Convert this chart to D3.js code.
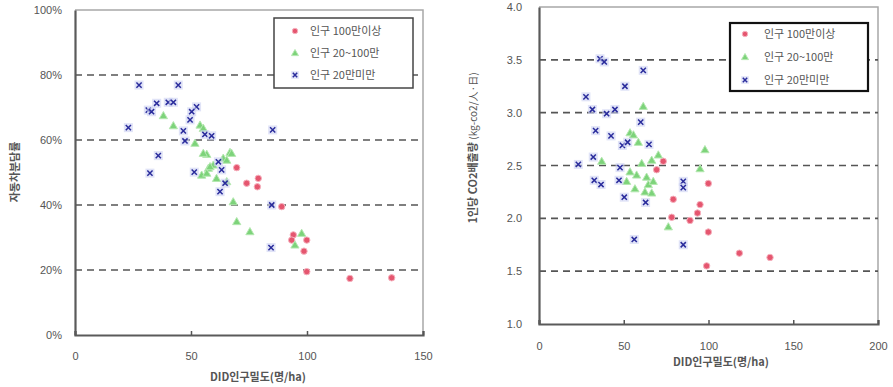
<!DOCTYPE html>
<html><head><meta charset="utf-8">
<script src="https://cdn.jsdelivr.net/npm/d3@7"></script>
<style>
body{margin:0;background:#fff;}
svg{display:block;font-family:"Noto Sans CJK KR","Noto Sans",sans-serif;}
</style></head>
<body><svg id="c" width="893" height="387"></svg>
<script>
// ---- data ----
const seriesNames = ["인구 100만이상", "인구 20~100만", "인구 20만미만"];
// Left chart: DID density (명/ha) vs car modal share (%)
const shareLarge = [[69.7,51.5],[74,46.7],[79,48.2],[78.6,45.6],[89.1,39.5],[94.1,30.8],[93.4,29.2],[99.9,29.2],[98.7,25.8],[99.9,19.5],[118.5,17.4],[136.5,17.6]];
const shareMid = [[38.1,67.5],[42.4,64.4],[53.9,64.6],[55.3,63.6],[51.7,59],[56.8,55.6],[66.8,56.2],[54.6,49.2],[57.5,51.3],[61,48.2],[59.6,52.3],[63.9,54.4],[68.2,41],[69.7,34.9],[55.3,55.9],[58.2,51.8],[65.4,47.2],[56.8,49.8],[67.5,55.9],[65.4,53.8],[75.4,31.8],[97.7,31.3],[94.8,27.7]];
const shareSmall = [[27.6,76.9],[44.5,76.9],[35.2,71.3],[40.2,71.6],[42.4,71.6],[31.6,69.2],[33,68.7],[52.4,70.2],[50.3,68.7],[49.6,66.2],[23,63.8],[46.7,62.8],[47.4,59.7],[56,61.7],[58.9,61.3],[35.9,55.2],[32.3,49.8],[51.4,50.1],[61.8,53.3],[64.7,46.7],[62.5,44.1],[85.2,63.1],[63.2,50.8],[84.8,40],[84.5,26.9]];
// Right chart: DID density vs CO2 per capita (kg-co2/人·日)
const co2Large = [[73.3,2.54],[69.4,2.46],[79.2,2.18],[78.3,2.01],[89.1,1.98],[99.9,2.33],[95,2.13],[93.5,2.05],[99.9,1.87],[118.2,1.67],[136.3,1.63],[98.9,1.55]];
const co2Mid = [[61.5,3.06],[53.7,2.81],[55.7,2.79],[37,2.54],[60.6,2.52],[66.5,2.55],[70.4,2.60],[53.7,2.44],[57.6,2.41],[63.5,2.39],[64.5,2.32],[67.4,2.35],[51.7,2.35],[62.5,2.25],[66.5,2.24],[56.6,2.28],[76.3,1.92],[97.9,2.65],[95,2.47],[58.6,2.72]];
const co2Small = [[36,3.51],[38.5,3.48],[61.5,3.40],[50.7,3.25],[27.7,3.15],[31.5,3.03],[39.9,2.99],[44.8,3.03],[60,2.91],[33.4,2.83],[42.5,2.78],[49.2,2.69],[52.3,2.72],[64.9,2.70],[32,2.58],[23.2,2.51],[47.8,2.48],[32.6,2.36],[36.6,2.32],[47.2,2.36],[85.1,2.35],[85.1,2.29],[50.3,2.20],[62.9,2.15],[56.2,1.80],[85.1,1.75]];
const leftXTicks = [0,50,100,150];
const leftYTicks = [0,20,40,60,80,100];
const leftGrid = [20,40,60,80];
const rightXTicks = [0,50,100,150,200];
const rightYTicks = [1.0,1.5,2.0,2.5,3.0,3.5,4.0];
const rightGrid = [1.5,2.0,2.5,3.0,3.5];

const svg = d3.select("#c");
const colors = ["#e5566f","#7dd37a","#2a2c9c"];

function marker(g, type, cx, cy, k){
  k = k || 1;
  if(type===0){
    g.append("circle").attr("cx",cx).attr("cy",cy).attr("r",3.2*k)
      .attr("fill",colors[0]).attr("stroke","#f6b0bd").attr("stroke-width",1);
  } else if(type===1){
    const s=4.1*k;
    g.append("path").attr("d",`M${cx},${cy-s}L${cx+s},${cy+s*0.75}L${cx-s},${cy+s*0.75}Z`)
      .attr("fill",colors[1]).attr("stroke","#b4e8b0").attr("stroke-width",1);
  } else {
    const s=2.6*k;
    g.append("rect").attr("x",cx-4.5*k).attr("y",cy-4.5*k).attr("width",9*k).attr("height",9*k)
      .attr("fill","#ccd0f2").attr("opacity",0.6);
    g.append("path").attr("d",`M${cx-s},${cy-s}L${cx+s},${cy+s}M${cx-s},${cy+s}L${cx+s},${cy-s}`)
      .attr("stroke",colors[2]).attr("stroke-width",1.5).attr("fill","none");
  }
}

function chart(cfg){
  const g = svg.append("g");
  const x = d3.scaleLinear().domain(cfg.xDomain).range([cfg.left,cfg.right]);
  const y = d3.scaleLinear().domain(cfg.yDomain).range([cfg.bottom,cfg.top]);
  g.append("path").attr("d",`M${cfg.left},${cfg.top}H${cfg.right}V${cfg.bottom}`)
    .attr("fill","none").attr("stroke","#a8a8a8").attr("stroke-width",1.5);
  g.selectAll(".grid").data(cfg.grid).join("line")
    .attr("x1",cfg.left).attr("x2",cfg.right)
    .attr("y1",d=>y(d)).attr("y2",d=>y(d))
    .attr("stroke","#555").attr("stroke-width",1.6).attr("stroke-dasharray","7,5");
  const xa = g.append("g").attr("transform",`translate(0,${cfg.bottom})`)
    .call(d3.axisBottom(x).tickValues(cfg.xTicks).tickSize(-4).tickPadding(cfg.xPad).tickFormat(d3.format("d")));
  const ya = g.append("g").attr("transform",`translate(${cfg.left},0)`)
    .call(d3.axisLeft(y).tickValues(cfg.yTicks).tickSize(0).tickPadding(cfg.yPad).tickFormat(cfg.yFmt));
  [xa,ya].forEach(a=>{
    a.select(".domain").attr("stroke","#5a5a5a").attr("stroke-width",2.2);
    a.selectAll(".tick line").attr("stroke","#555").attr("stroke-width",1.5);
    a.selectAll(".tick text").attr("fill","#555").attr("font-size",11).attr("font-family","Arial, 'Liberation Sans', sans-serif");
  });
  const pg = g.append("g");
  cfg.series.forEach((arr,i)=>{
    arr.forEach(p=>marker(pg,i,x(p[0]),y(p[1])));
  });
  const L = cfg.legend;
  g.append("rect").attr("x",L.x).attr("y",L.y).attr("width",L.w).attr("height",L.h)
    .attr("fill","#fff").attr("stroke",L.stroke).attr("stroke-width",L.sw);
  seriesNames.forEach((n,i)=>{
    const cy = L.y + L.row0 + i*L.dy;
    marker(g,i,L.sx,cy,0.85);
    g.append("text").attr("x",L.tx).attr("y",cy).attr("dy","0.35em")
      .attr("font-size",11).attr("fill","#555").text(n);
  });
  g.append("text").attr("x",cfg.xTitleX).attr("y",cfg.xTitleY).attr("text-anchor","middle")
    .attr("font-size",11).attr("font-weight","bold").attr("fill","#555").text("DID인구밀도(명/ha)");
  return {x,y};
}

chart({left:75,right:423,top:10,bottom:335,xDomain:[0,150],yDomain:[0,100],
  xTicks:leftXTicks,yTicks:leftYTicks,grid:leftGrid,xPad:17,yPad:13,yFmt:d=>d+"%",
  series:[shareLarge,shareMid,shareSmall],
  legend:{x:274,y:18,w:139,h:70,stroke:"#444",sw:1.5,row0:13,dy:22,sx:295,tx:310},
  xTitleX:258,xTitleY:381});

chart({left:539,right:878,top:7,bottom:324,xDomain:[0,200],yDomain:[1,4],
  xTicks:rightXTicks,yTicks:rightYTicks,grid:rightGrid,xPad:18,yPad:17,yFmt:d3.format(".1f"),
  series:[co2Large,co2Mid,co2Small],
  legend:{x:730,y:23,w:138,h:68,stroke:"#111",sw:2.2,row0:11,dy:23,sx:745,tx:764},
  xTitleX:721,xTitleY:366});

svg.append("text").attr("transform","translate(19,172) rotate(-90)").attr("text-anchor","middle")
  .attr("font-size",11).attr("font-weight","bold").attr("fill","#555").text("자동차분담률");
const yt = svg.append("text").attr("transform","translate(477,148) rotate(-90)").attr("text-anchor","middle")
  .attr("font-size",11).attr("fill","#555");
yt.append("tspan").attr("font-weight","bold").text("1인당 CO2배출량 ");
yt.append("tspan").attr("font-size",10).text("(kg-co2/人·日)");
</script></body></html>
